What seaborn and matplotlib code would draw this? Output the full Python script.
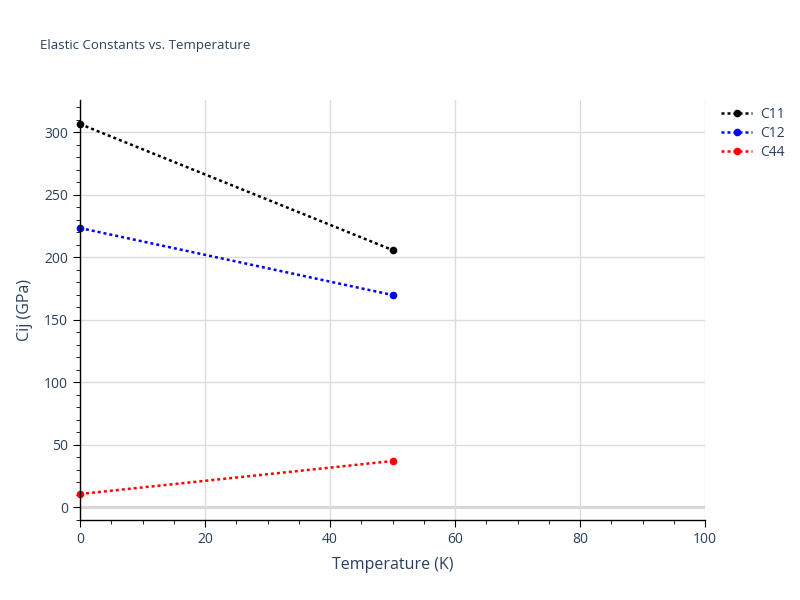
import numpy as np
import pandas as pd
import matplotlib
matplotlib.use('Agg')
import matplotlib.pyplot as plt
import seaborn as sns
from matplotlib.ticker import MultipleLocator

temperature = [0, 50]
c11 = [306.4, 205.6]
c12 = [223.2, 169.6]
c44 = [10.4, 36.8]
series_names = ['C11', 'C12', 'C44']
series_colors = ['black', 'blue', 'red']

data = pd.DataFrame({
    'Temperature': temperature * 3,
    'Cij': c11 + c12 + c44,
    'Series': [s for s in series_names for _ in temperature],
})

sns.set_style('white')
plt.rcParams['font.family'] = ['Open Sans', 'DejaVu Sans']
text_color = '#2a3f5f'

fig = plt.figure(figsize=(8, 6), dpi=100)
ax = fig.add_axes([0.1, 0.1333, 0.78125, 0.7])

sns.lineplot(data=data, x='Temperature', y='Cij', hue='Series',
             palette=dict(zip(series_names, series_colors)),
             linestyle=(0, (1.2, 1.2)), linewidth=1.8, marker='o',
             markersize=5.5, markeredgewidth=0, ax=ax, legend=False)
for line in ax.lines:
    line.set_clip_on(False)

ax.set_xlim(0, 100)
ax.set_ylim(-10.4, 325.6)
ax.xaxis.set_major_locator(MultipleLocator(20))
ax.xaxis.set_minor_locator(MultipleLocator(5))
ax.yaxis.set_major_locator(MultipleLocator(50))
ax.yaxis.set_minor_locator(MultipleLocator(10))
ax.grid(True, which='major', color='#dcdcdc', linewidth=1)
ax.axhline(0, color='#cccccc', linewidth=2, zorder=0)

for side in ['top', 'right']:
    ax.spines[side].set_visible(False)
for side in ['left', 'bottom']:
    ax.spines[side].set_color('black')
    ax.spines[side].set_linewidth(1)

ax.tick_params(axis='both', which='major', direction='out', length=5,
               color='black', labelcolor=text_color, labelsize=10, left=True, bottom=True)
ax.tick_params(axis='both', which='minor', direction='out', length=3,
               color='black', left=True, bottom=True)

ax.set_xlabel('Temperature (K)', color=text_color, fontsize=11.5, labelpad=7)
ax.set_ylabel('Cij (GPa)', color=text_color, fontsize=11.5, labelpad=8)

fig.text(0.05, 0.925, 'Elastic Constants vs. Temperature', color=text_color,
         fontsize=9.5, va='center')

handles = [plt.Line2D([], [], color=c, linestyle=(0, (1.2, 1.2)), linewidth=1.8,
                      marker='o', markersize=5.5, markeredgewidth=0)
           for c in series_colors]
leg = fig.legend(handles, series_names, loc='upper left', bbox_to_anchor=(0.886, 0.843),
                 frameon=False, fontsize=10, handlelength=2.2, handletextpad=0.6,
                 labelspacing=0.3)
for t in leg.get_texts():
    t.set_color(text_color)

fig.savefig('out.png', dpi=100)
